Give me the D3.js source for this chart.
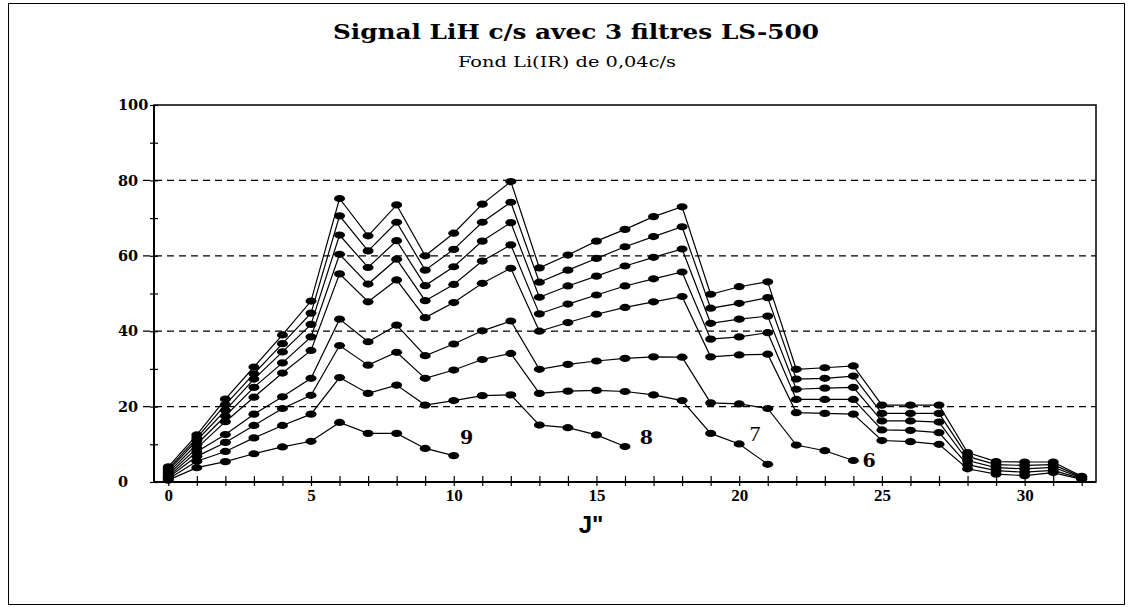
<!DOCTYPE html>
<html>
<head>
<meta charset="utf-8">
<script src="https://cdn.jsdelivr.net/npm/d3@7"></script>
<style>
  body { margin: 0; background: #fff; }
  svg { display: block; }
  .serif { font-family: "Liberation Serif", "DejaVu Serif", serif; }
  .wide { font-family: "DejaVu Serif", "Liberation Serif", serif; }
</style>
</head>
<body>
<svg id="chart" width="1132" height="607"></svg>
<script>
// J" values (x) - the series below start at J" = 0
var jTicks = [0, 5, 10, 15, 20, 25, 30];
var yTicks = [0, 20, 40, 60, 80, 100];

// signal c/s, one array per curve (top to bottom)
var s1 = [4, 12.5, 22, 30.5, 39, 48, 75.2, 65.3, 73.5, 60, 66, 73.7, 79.7, 56.8, 60.2, 63.9, 67, 70.4, 73, 49.8, 51.8, 53.1, 29.9, 30.3, 30.8, 20.4, 20.4, 20.4, 7.8, 5.4, 5.3, 5.3, 1.5];
var s2 = [3.5, 11.7, 20.5, 28.7, 36.7, 44.8, 70.6, 61.3, 68.9, 56.2, 61.7, 68.9, 74.2, 53, 56.2, 59.3, 62.4, 65.1, 67.7, 46.1, 47.4, 48.9, 27.3, 27.5, 28.1, 18.2, 18.2, 18.2, 6.8, 4.6, 4.4, 4.6, 1.3];
var s3 = [3, 11, 19, 27.3, 34.5, 41.8, 65.5, 56.9, 64, 52.1, 57.1, 63.9, 68.8, 49, 52, 54.6, 57.3, 59.6, 61.8, 42.1, 43.2, 44, 24.6, 24.9, 25.1, 16.2, 16.2, 15.9, 5.7, 3.8, 3.5, 3.9, 1.1];
var s4 = [2.5, 10, 17.5, 25.1, 31.6, 38.5, 60.4, 52.5, 59.1, 48.1, 52.4, 58.6, 62.9, 44.6, 47.2, 49.6, 52, 53.9, 55.7, 37.9, 38.5, 39.6, 21.9, 21.9, 21.9, 13.8, 13.7, 13.1, 4.6, 3, 2.6, 3.1, 0.9];
var s5 = [2, 9, 16, 22.5, 28.9, 34.9, 55.2, 47.8, 53.6, 43.6, 47.6, 52.7, 56.7, 40, 42.3, 44.5, 46.3, 47.8, 49.2, 33.2, 33.7, 33.9, 18.4, 18.2, 18, 11, 10.7, 10, 3.5, 2.1, 1.7, 2.5, 0.7];
var s6 = [1.5, 8, 12.6, 18, 22.6, 27.5, 43.2, 37.2, 41.6, 33.5, 36.6, 40.1, 42.7, 29.9, 31.2, 32.1, 32.8, 33.2, 33.1, 21, 20.7, 19.5, 9.8, 8.3, 5.7];
var s7 = [1.2, 6.8, 10.5, 15, 19.5, 23, 36.2, 31, 34.4, 27.5, 29.7, 32.5, 34.1, 23.5, 24.1, 24.3, 24, 23.1, 21.6, 12.9, 10.1, 4.7];
var s8 = [0.8, 5.5, 8.1, 11.7, 15, 18, 27.7, 23.5, 25.7, 20.4, 21.6, 22.9, 23.1, 15.1, 14.4, 12.5, 9.4];
var s9 = [0.5, 3.8, 5.4, 7.5, 9.3, 10.8, 15.8, 12.9, 12.9, 8.9, 7.0];

// curve labels and where they sit (data units)
var labelText = ["9", "8", "7", "6"];
var labelJ = [10.45, 16.75, 20.55, 24.55];
var labelY = [11.5, 11.5, 12.3, 5.3];

var allSeries = [s1, s2, s3, s4, s5, s6, s7, s8, s9];

var svg = d3.select("#chart");

var translate = function(x, y) {
  return "translate(" + x + "," + y + ")";
};

// outer frame
svg.append("rect")
  .attr("x", 8.5).attr("y", 3.5)
  .attr("width", 1116).attr("height", 601)
  .attr("fill", "none").attr("stroke", "#000").attr("stroke-width", 1);

var x = d3.scaleLinear().domain([-0.5, 32.5]).range([154, 1096]);
var y = d3.scaleLinear().domain([0, 100]).range([482, 105]);

// dashed grid
svg.append("g").selectAll("line")
  .data([20, 40, 60, 80])
  .enter().append("line")
  .attr("x1", 143).attr("x2", 1096)
  .attr("y1", function(d) { return y(d); })
  .attr("y2", function(d) { return y(d); })
  .attr("stroke", "#000")
  .attr("stroke-width", 1.3)
  .attr("stroke-dasharray", "7,5");

// plot box
svg.append("rect")
  .attr("x", 154).attr("y", 105)
  .attr("width", 1096 - 154).attr("height", 482 - 105)
  .attr("fill", "none").attr("stroke", "#000").attr("stroke-width", 1.5);

// y axis (ticks cross the axis line)
var yAxis = d3.axisLeft(y)
  .tickValues(d3.range(0, 101, 10))
  .tickSize(8)
  .tickFormat(function(d) { return yTicks.indexOf(d) >= 0 ? d : ""; });

var gy = svg.append("g")
  .attr("transform", translate(158, 0))
  .call(yAxis);
gy.select(".domain").remove();
gy.selectAll(".tick line").attr("stroke", "#000").attr("stroke-width", 1.2);
gy.selectAll(".tick text")
  .attr("x", -40)
  .attr("text-anchor", "start")
  .attr("class", "wide")
  .style("font-size", "14.5px")
  .style("font-weight", "bold")
  .attr("fill", "#000");

// x axis
var xAxis = d3.axisBottom(x)
  .tickValues(d3.range(0, 33, 1))
  .tickSize(10)
  .tickFormat(function(d) { return jTicks.indexOf(d) >= 0 ? d : ""; });

var gx = svg.append("g")
  .attr("transform", translate(0, 476))
  .call(xAxis);
gx.select(".domain").remove();
gx.selectAll(".tick line").attr("stroke", "#000").attr("stroke-width", 1.2);
gx.selectAll(".tick text")
  .attr("y", 13)
  .attr("class", "serif")
  .style("font-size", "17px")
  .style("font-weight", "bold")
  .attr("fill", "#000");

// axis lines on top of ticks
svg.append("line")
  .attr("x1", 154).attr("x2", 1096)
  .attr("y1", 482).attr("y2", 482)
  .attr("stroke", "#000").attr("stroke-width", 2);
svg.append("line")
  .attr("x1", 154).attr("x2", 154)
  .attr("y1", 105).attr("y2", 482)
  .attr("stroke", "#000").attr("stroke-width", 2);

// curves
var line = d3.line()
  .x(function(d, i) { return x(i); })
  .y(function(d) { return y(d); });

var plot = svg.append("g").attr("id", "plot");

allSeries.forEach(function(s) {
  plot.append("path")
    .datum(s)
    .attr("d", line)
    .attr("fill", "none")
    .attr("stroke", "#000")
    .attr("stroke-width", 1.2);

  plot.append("g").selectAll("ellipse")
    .data(s)
    .enter().append("ellipse")
    .attr("cx", function(d, i) { return x(i); })
    .attr("cy", function(d) { return y(d); })
    .attr("rx", 5.5)
    .attr("ry", 3.6)
    .attr("fill", "#000");
});

// curve labels
svg.append("g").selectAll("text")
  .data(labelText)
  .enter().append("text")
  .attr("class", function(d) { return d === "7" ? "serif" : "wide"; })
  .attr("x", function(d, i) { return x(labelJ[i]); })
  .attr("y", function(d, i) { return y(labelY[i]); })
  .attr("text-anchor", "middle")
  .attr("dominant-baseline", "middle")
  .style("font-size", function(d) { return d === "7" ? "22px" : "19px"; })
  .style("font-weight", function(d) { return d === "7" ? "normal" : "bold"; })
  .text(function(d) { return d; });

// titles
svg.append("text")
  .attr("class", "wide")
  .attr("x", 576).attr("y", 39)
  .attr("text-anchor", "middle")
  .attr("textLength", 486)
  .attr("lengthAdjust", "spacingAndGlyphs")
  .style("font-size", "21px")
  .style("font-weight", "bold")
  .text("Signal LiH c/s avec 3 filtres LS-500");

svg.append("text")
  .attr("class", "wide")
  .attr("x", 567).attr("y", 67)
  .attr("text-anchor", "middle")
  .attr("textLength", 218)
  .attr("lengthAdjust", "spacingAndGlyphs")
  .style("font-size", "15px")
  .text("Fond Li(IR) de 0,04c/s");

svg.append("text")
  .attr("x", 591).attr("y", 533)
  .attr("text-anchor", "middle")
  .style("font-family", "'Liberation Sans', Arial, sans-serif")
  .style("font-size", "24px")
  .style("font-weight", "bold")
  .text("J\"");
</script>
</body>
</html>
